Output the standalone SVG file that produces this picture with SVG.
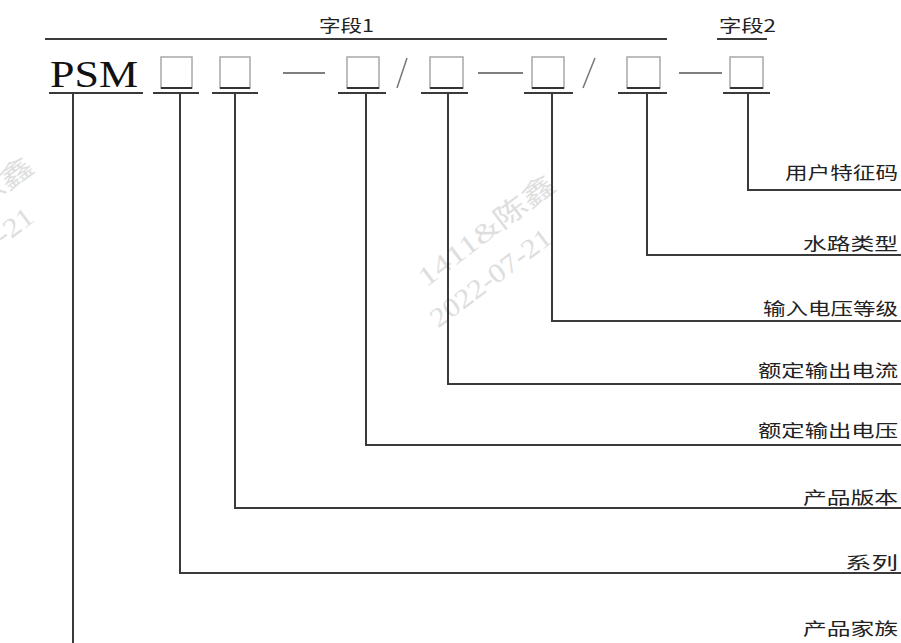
<svg xmlns="http://www.w3.org/2000/svg" width="901" height="643" viewBox="0 0 901 643">
<style>
.ln{stroke:#3a3a3a;stroke-width:2;fill:none}
.box{stroke:#a8a8a8;stroke-width:1.5;fill:none}
.boxb{stroke:#333;stroke-width:2}
.dash{stroke:#555;stroke-width:1.5}
.sl{stroke:#777;stroke-width:1.5}
.lbl{font-family:"Noto Sans CJK SC","Noto Sans",sans-serif;font-size:17px;fill:#222;text-anchor:end}
.hd{font-family:"Noto Sans CJK SC","Noto Sans",sans-serif;font-size:17px;fill:#222}
.wm{font-family:"Liberation Serif","Noto Sans CJK SC",serif;font-size:27px;fill:#dedede;text-anchor:middle}
</style>
<rect width="901" height="643" fill="#fff"/>
<g id="watermark">
<g transform="translate(492,238) rotate(-37)">
<text class="wm" x="0" y="0" textLength="165" lengthAdjust="spacingAndGlyphs">1411&amp;陈鑫</text>
<text class="wm" x="-25" y="40" textLength="145" lengthAdjust="spacingAndGlyphs">2022-07-21</text>
</g>
<g transform="translate(-30,220) rotate(-37)">
<text class="wm" x="0" y="0" textLength="165" lengthAdjust="spacingAndGlyphs">1411&amp;陈鑫</text>
<text class="wm" x="-20" y="40" textLength="145" lengthAdjust="spacingAndGlyphs">2022-07-21</text>
</g>
</g>
<g id="header">
<line class="ln" x1="45" y1="39" x2="667" y2="39"/>
<text class="hd" x="319" y="32" textLength="55" lengthAdjust="spacingAndGlyphs">字段1</text>
<line class="ln" x1="717" y1="39" x2="767" y2="39"/>
<text class="hd" x="719" y="32" textLength="57" lengthAdjust="spacingAndGlyphs">字段2</text>
</g>
<g id="psm">
<text x="50" y="87" font-family="Liberation Serif,serif" font-size="38" fill="#111" textLength="88" lengthAdjust="spacingAndGlyphs">PSM</text>
<line class="ln" x1="49" y1="93" x2="143" y2="93"/>
</g>
<g id="box1"><rect class="box" x="161" y="57" width="31" height="31"/><line class="boxb" x1="161" y1="88" x2="192" y2="88"/><line class="ln" x1="153" y1="93" x2="199" y2="93"/></g>
<g id="box2"><rect class="box" x="220" y="57" width="30" height="31"/><line class="boxb" x1="220" y1="88" x2="250" y2="88"/><line class="ln" x1="212" y1="93" x2="258" y2="93"/></g>
<g id="box3"><rect class="box" x="347" y="57" width="32" height="31"/><line class="boxb" x1="347" y1="88" x2="379" y2="88"/><line class="ln" x1="338" y1="93" x2="386" y2="93"/></g>
<g id="box4"><rect class="box" x="430" y="57" width="33" height="31"/><line class="boxb" x1="430" y1="88" x2="463" y2="88"/><line class="ln" x1="421" y1="93" x2="468" y2="93"/></g>
<g id="box5"><rect class="box" x="532" y="57" width="32" height="31"/><line class="boxb" x1="532" y1="88" x2="564" y2="88"/><line class="ln" x1="524" y1="93" x2="573" y2="93"/></g>
<g id="box6"><rect class="box" x="627" y="57" width="33" height="31"/><line class="boxb" x1="627" y1="88" x2="660" y2="88"/><line class="ln" x1="618" y1="93" x2="667" y2="93"/></g>
<g id="box7"><rect class="box" x="730" y="57" width="33" height="31"/><line class="boxb" x1="730" y1="88" x2="763" y2="88"/><line class="ln" x1="723" y1="93" x2="770" y2="93"/></g>
<g id="separators">
<line class="dash" x1="283" y1="73" x2="325" y2="73"/>
<line class="sl" x1="407" y1="58" x2="397" y2="88"/>
<line class="dash" x1="478" y1="73" x2="523" y2="73"/>
<line class="sl" x1="595" y1="58" x2="583" y2="88"/>
<line class="dash" x1="679" y1="73" x2="722" y2="73"/>
</g>
<g id="connectors">
<polyline class="ln" points="748,93 748,190 901,190"/>
<polyline class="ln" points="647,93 647,255 901,255"/>
<polyline class="ln" points="552,93 552,321 901,321"/>
<polyline class="ln" points="448,93 448,384 901,384"/>
<polyline class="ln" points="366,93 366,445 901,445"/>
<polyline class="ln" points="235,93 235,508 901,508"/>
<polyline class="ln" points="180,93 180,573 901,573"/>
<polyline class="ln" points="73,93 73,643"/>
</g>
<g id="label-user"><text class="lbl" x="898" y="179" textLength="113" lengthAdjust="spacingAndGlyphs">用户特征码</text></g>
<g id="label-water"><text class="lbl" x="898" y="250" textLength="95" lengthAdjust="spacingAndGlyphs">水路类型</text></g>
<g id="label-input"><text class="lbl" x="898" y="315" textLength="135" lengthAdjust="spacingAndGlyphs">输入电压等级</text></g>
<g id="label-current"><text class="lbl" x="898" y="377" textLength="140" lengthAdjust="spacingAndGlyphs">额定输出电流</text></g>
<g id="label-voltage"><text class="lbl" x="898" y="437" textLength="140" lengthAdjust="spacingAndGlyphs">额定输出电压</text></g>
<g id="label-version"><text class="lbl" x="898" y="504" textLength="95" lengthAdjust="spacingAndGlyphs">产品版本</text></g>
<g id="label-series"><text class="lbl" x="898" y="569" textLength="53" lengthAdjust="spacingAndGlyphs">系列</text></g>
<g id="label-family"><text class="lbl" x="898" y="635" textLength="95" lengthAdjust="spacingAndGlyphs">产品家族</text></g>
</svg>
